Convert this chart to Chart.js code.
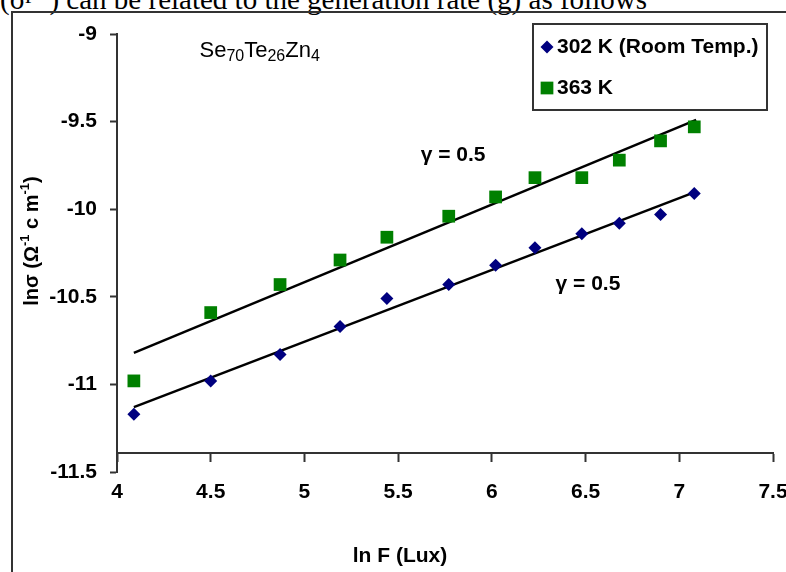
<!DOCTYPE html>
<html>
<head>
<meta charset="utf-8">
<script src="https://cdn.jsdelivr.net/npm/chart.js@4.4.1/dist/chart.umd.min.js"></script>
<style>
  html, body { margin: 0; padding: 0; background: #fff; }
  body { width: 786px; height: 572px; position: relative; overflow: hidden; }
  #caption { position: absolute; left: 0; top: -24px; font: 29px 'Liberation Serif', serif; white-space: nowrap; color: #000; }
  #frame { position: absolute; left: 11px; top: 11px; width: 900px; height: 700px; border: 2px solid #333; }
  #chart { position: absolute; left: 0; top: 0; }
</style>
</head>
<body>
<div id="caption">(σ<sup>ph</sup>) can be related to the generation rate (g) as follows</div>
<div id="frame"></div>
<canvas id="chart" width="786" height="572"></canvas>
<script>
// ln F (Lux) of each measurement
const lnF = [4.09, 4.50, 4.87, 5.19, 5.44, 5.77, 6.02, 6.23, 6.48, 6.68, 6.90, 7.08];
// ln sigma at 302 K and 363 K
const lnSigma302 = [-11.17, -10.98, -10.83, -10.67, -10.51, -10.43, -10.32, -10.22, -10.14, -10.08, -10.03, -9.91];
const lnSigma363 = [-10.98, -10.59, -10.43, -10.29, -10.16, -10.04, -9.93, -9.82, -9.82, -9.72, -9.61, -9.53];
// fitted lines, end points
const fitX = [4.09, 7.09];
const fit302 = [-11.13, -9.90];
const fit363 = [-10.82, -9.49];
const xTicks = [4, 4.5, 5, 5.5, 6, 6.5, 7, 7.5];
const yTicks = [-9, -9.5, -10, -10.5, -11, -11.5];
const seriesNames = ['302 K (Room Temp.)', '363 K'];

const labelFont = "bold 21px 'Liberation Sans'";
const pts = (xs, ys) => xs.map((v, i) => ({ x: v, y: ys[i] }));

// labels, legend and axis titles drawn on top of the plot
const notes = {
  id: 'notes',
  afterDraw(chart) {
    const { ctx, scales: { x, y } } = chart;
    ctx.save();
    ctx.fillStyle = '#000';
    ctx.textAlign = 'left';

    // Se70Te26Zn4
    let px = x.getPixelForValue(4.44);
    const py = y.getPixelForValue(-9.13);
    ctx.textBaseline = 'alphabetic';
    [['Se', 0], ['70', 1], ['Te', 0], ['26', 1], ['Zn', 0], ['4', 1]].forEach(([t, sub]) => {
      ctx.font = sub ? "16px 'Liberation Sans'" : "22px 'Liberation Sans'";
      ctx.fillText(t, px, sub ? py + 4 : py);
      px += ctx.measureText(t).width;
    });

    // gamma labels
    ctx.font = labelFont;
    ctx.textBaseline = 'middle';
    ctx.fillText('γ = 0.5', x.getPixelForValue(5.62), y.getPixelForValue(-9.69));
    ctx.fillText('γ = 0.5', x.getPixelForValue(6.34), y.getPixelForValue(-10.43));

    // legend box
    ctx.strokeStyle = '#333';
    ctx.lineWidth = 2;
    ctx.strokeRect(533, 24, 234, 86);
    const ds = chart.data.datasets;
    [[0, 47], [1, 88]].forEach(([k, ly]) => {
      const d = ds[k];
      ctx.fillStyle = d.backgroundColor;
      Chart.helpers.drawPoint(ctx, { pointStyle: d.pointStyle, radius: d.pointRadius, rotation: 0, borderWidth: 0 }, 547, ly);
      ctx.fillStyle = '#000';
      ctx.font = labelFont;
      ctx.fillText(d.label, 557, ly);
    });

    // x title
    ctx.textAlign = 'center';
    ctx.fillText('ln F (Lux)', 400, 556);

    // y title with superscripts
    ctx.translate(32, 241);
    ctx.rotate(-Math.PI / 2);
    const parts = [['lnσ (Ω', 0], ['-1', 1], [' c m', 0], ['-1', 1], [')', 0]];
    const big = "bold 20px 'Liberation Sans'", small = "bold 13px 'Liberation Sans'";
    let total = 0;
    parts.forEach(([t, sup]) => { ctx.font = sup ? small : big; total += ctx.measureText(t).width; });
    let tx = -total / 2;
    ctx.textAlign = 'left';
    parts.forEach(([t, sup]) => {
      ctx.font = sup ? small : big;
      ctx.fillText(t, tx, sup ? -7 : 0);
      tx += ctx.measureText(t).width;
    });
    ctx.restore();
  }
};

new Chart(document.getElementById('chart'), {
  type: 'scatter',
  data: {
    datasets: [
      {
        label: seriesNames[0],
        data: pts(lnF, lnSigma302),
        pointStyle: 'rectRot',
        pointRadius: 6.5,
        backgroundColor: '#00007f',
        borderWidth: 0,
      },
      {
        label: seriesNames[1],
        data: pts(lnF, lnSigma363),
        pointStyle: 'rect',
        pointRadius: 9,
        backgroundColor: '#008000',
        borderWidth: 0,
      },
      {
        type: 'line',
        data: pts(fitX, fit302),
        borderColor: '#000',
        borderWidth: 2.5,
        pointRadius: 0,
      },
      {
        type: 'line',
        data: pts(fitX, fit363),
        borderColor: '#000',
        borderWidth: 2.5,
        pointRadius: 0,
      },
    ],
  },
  options: {
    responsive: false,
    animation: false,
    devicePixelRatio: 1,
    layout: { padding: { left: 0, top: 34, right: 13, bottom: 100 } },
    plugins: { legend: { display: false }, tooltip: { enabled: false } },
    scales: {
      x: {
        type: 'linear',
        position: { y: -11.39 },
        min: 4,
        max: 7.5,
        afterFit: (s) => { s.height = 0; s.paddingLeft = 0; s.paddingRight = 0; },
        afterBuildTicks: (s) => { s.ticks = xTicks.map((v) => ({ value: v })); },
        grid: { drawOnChartArea: false, tickLength: 8, tickColor: '#333', tickWidth: 2 },
        border: { color: '#333', width: 2 },
        ticks: { padding: 19, color: '#000', font: { family: "'Liberation Sans'", size: 21, weight: 'bold' }, callback: (v) => String(v) },
      },
      y: {
        min: -11.5,
        max: -9,
        afterFit: (s) => { s.width = 117; s.paddingTop = 0; s.paddingBottom = 0; },
        afterBuildTicks: (s) => { s.ticks = yTicks.map((v) => ({ value: v })); },
        grid: { drawOnChartArea: false, tickLength: 7, tickColor: '#333', tickWidth: 2 },
        border: { color: '#333', width: 2 },
        ticks: { padding: 13, color: '#000', font: { family: "'Liberation Sans'", size: 21, weight: 'bold' }, callback: (v) => String(v) },
      },
    },
  },
  plugins: [notes],
});
</script>
</body>
</html>
